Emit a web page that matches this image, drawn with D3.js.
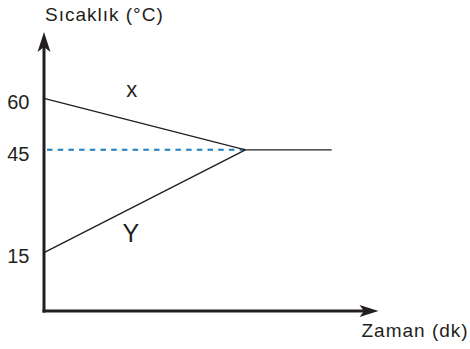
<!DOCTYPE html>
<html>
<head>
<meta charset="utf-8">
<script src="https://cdn.jsdelivr.net/npm/d3@7"></script>
<style>
  html, body { margin: 0; padding: 0; background: #fff; }
  text { font-family: "Liberation Sans", Arial, sans-serif; fill: #231f20; }
</style>
</head>
<body>
<div id="chart"></div>
<script>
// data: time (dk) and temperatures (°C)
var times = [0, 7, 10];
var tempX = [60, 45, 45];
var tempY = [15, 45];
var tempEq = [45, 45];
var yTicks = [60, 45, 15];
var yTitle = "Sıcaklık (°C)";
var xTitle = "Zaman (dk)";

var width = 470, height = 349;
var ink = "#231f20";

var svg = d3.select("#chart")
  .append("svg")
  .attr("width", width)
  .attr("height", height);

var x = d3.scaleLinear().domain([0, 10]).range([44, 331.7]);
var y = d3.scaleLinear().domain([0, 60]).range([304.1, 98.4]);

var axisY = 311; // horizontal axis position

var line = d3.line()
  .x(function(d) { return x(d[0]); })
  .y(function(d) { return y(d[1]); });

// dashed equilibrium line
svg.append("path")
  .attr("d", line(tempEq.map(function(v, i) { return [times[i], v]; })))
  .attr("fill", "none")
  .attr("stroke", "#1a7dc0")
  .attr("stroke-width", 2)
  .attr("stroke-dasharray", "5.5,5.2")
  .attr("stroke-dashoffset", -3);

// X and Y curves
svg.append("path")
  .attr("d", line(tempX.map(function(v, i) { return [times[i], v]; })))
  .attr("fill", "none")
  .attr("stroke", ink)
  .attr("stroke-width", 1.4);

svg.append("path")
  .attr("d", line(tempY.map(function(v, i) { return [times[i], v]; })))
  .attr("fill", "none")
  .attr("stroke", ink)
  .attr("stroke-width", 1.4);

// axes
svg.append("line")
  .attr("x1", x(0)).attr("x2", x(0))
  .attr("y1", axisY + 1.5).attr("y2", 45)
  .attr("stroke", ink).attr("stroke-width", 3);

svg.append("line")
  .attr("x1", x(0) - 1.5).attr("x2", 366)
  .attr("y1", axisY).attr("y2", axisY)
  .attr("stroke", ink).attr("stroke-width", 3);

var x0 = x(0);
svg.append("path")
  .attr("d", "M" + x0 + ",32L" + (x0 - 6.5) + ",52L" + x0 + ",47L" + (x0 + 6.5) + ",52Z")
  .attr("fill", ink);

svg.append("path")
  .attr("d", "M378.5," + axisY + "L359.5," + (axisY - 6) + "L364," + axisY + "L359.5," + (axisY + 6) + "Z")
  .attr("fill", ink);

// tick labels
svg.selectAll(".tick")
  .data(yTicks)
  .enter()
  .append("text")
  .attr("x", 29.5)
  .attr("y", function(d) { return y(d) + 10.8; })
  .attr("text-anchor", "end")
  .attr("font-size", "20px")
  .text(function(d) { return d; });

// series labels
svg.append("text")
  .attr("x", x(3.05))
  .attr("y", y(60.3))
  .attr("text-anchor", "middle")
  .attr("font-size", "22px")
  .text("x");

svg.append("text")
  .attr("x", x(3.02))
  .attr("y", y(18.2))
  .attr("text-anchor", "middle")
  .attr("font-size", "25px")
  .text("Y");

// axis titles
svg.append("text")
  .attr("x", 45)
  .attr("y", 20.5)
  .attr("font-size", "19px")
  .attr("letter-spacing", "1px")
  .text(yTitle);

svg.append("text")
  .attr("x", 361.5)
  .attr("y", 336.7)
  .attr("font-size", "19px")
  .attr("letter-spacing", "1px")
  .text(xTitle);
</script>
</body>
</html>
